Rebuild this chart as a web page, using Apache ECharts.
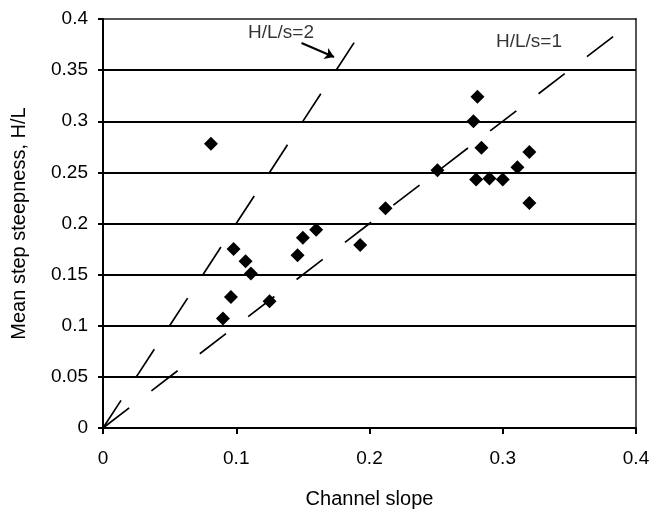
<!DOCTYPE html>
<html><head><meta charset="utf-8">
<script src="https://cdn.jsdelivr.net/npm/echarts@6/dist/echarts.min.js"></script>
<style>html,body{margin:0;padding:0;background:#fff}#c{width:662px;height:515px}</style>
</head><body><div id="c"></div>
<script>
// Measured points: channel slope (x) vs mean step steepness H/L (y)
const slope = [0.081,0.098,0.107,0.111,0.096,0.090,0.125,0.146,0.150,0.160,0.193,0.212,0.251,0.278,0.281,0.284,0.280,0.290,0.300,0.311,0.320,0.320];
const steep = [0.278,0.175,0.163,0.151,0.128,0.107,0.124,0.169,0.186,0.194,0.179,0.215,0.252,0.300,0.324,0.274,0.243,0.244,0.243,0.255,0.270,0.220];
// Reference lines H/L/s = 1 and H/L/s = 2
const line1X = [0, 0.4], line1Y = [0, 0.4];
const line2X = [0, 0.2], line2Y = [0, 0.4];
// Annotation labels and arrow
const labelText = ['H/L/s=2', 'H/L/s=1'];
const labelX = [0.1336, 0.3197], labelY = [0.387, 0.3775];
const arrowFrom = [0.149, 0.3765], arrowTo = [0.1734, 0.3628];
const xTicks = [0, 0.1, 0.2, 0.3, 0.4];
const yTicks = [0, 0.05, 0.1, 0.15, 0.2, 0.25, 0.3, 0.35, 0.4];

const font = 'Liberation Sans, Arial, sans-serif';
const chart = echarts.init(document.getElementById('c'), null, {renderer: 'canvas'});
const zip = (a, b) => a.map((v, i) => [v, b[i]]);
const dash = {color: '#000', width: 1.7, type: [33, 28]};
chart.setOption({
  animation: false,
  backgroundColor: '#fff',
  grid: {left: 103, right: 26, top: 19, bottom: 87, show: true, borderColor: '#555', borderWidth: 2},
  xAxis: {
    type: 'value', min: xTicks[0], max: xTicks[xTicks.length - 1], interval: 0.1,
    name: 'Channel slope', nameLocation: 'middle', nameGap: 61,
    nameTextStyle: {fontFamily: font, fontSize: 20, color: '#000'},
    axisLine: {show: true, onZero: false, lineStyle: {color: '#000', width: 2}},
    axisTick: {show: true, length: 6, lineStyle: {color: '#000', width: 2}},
    axisLabel: {fontFamily: font, fontSize: 19, color: '#000', margin: 21},
    splitLine: {show: false}
  },
  yAxis: {
    type: 'value', min: yTicks[0], max: yTicks[yTicks.length - 1], interval: 0.05,
    name: 'Mean step steepness, H/L', nameLocation: 'middle', nameGap: 74, nameRotate: 90,
    nameTextStyle: {fontFamily: font, fontSize: 20, color: '#000'},
    axisLine: {show: true, onZero: false, lineStyle: {color: '#000', width: 2}},
    axisTick: {show: true, length: 5, lineStyle: {color: '#000', width: 2}},
    axisLabel: {fontFamily: font, fontSize: 19, color: '#000', margin: 15},
    splitLine: {show: true, lineStyle: {color: ['#000','#000','#000','#000','#000','#000','#000','#000','#555'], width: 2}}
  },
  series: [
    {type: 'line', data: zip(line1X, line1Y), symbol: 'none', lineStyle: dash, z: 2},
    {type: 'line', data: zip(line2X, line2Y), symbol: 'none', lineStyle: dash, z: 2},
    {type: 'scatter', data: zip(slope, steep), symbol: 'diamond', symbolSize: 14,
     itemStyle: {color: '#000', opacity: 1}, z: 3},
    {type: 'scatter', data: zip(labelX, labelY).map((p, i) => ({value: p, name: labelText[i]})),
     symbolSize: 0, z: 4,
     label: {show: true, position: 'inside', formatter: '{b}', fontFamily: font, fontSize: 19, color: '#000'},
     markLine: {silent: true, symbol: ['none', 'arrow'], symbolSize: 9,
       lineStyle: {color: '#000', width: 2, type: 'solid'}, label: {show: false},
       data: [[{coord: arrowFrom}, {coord: arrowTo}]]}}
  ]
});
</script></body></html>
